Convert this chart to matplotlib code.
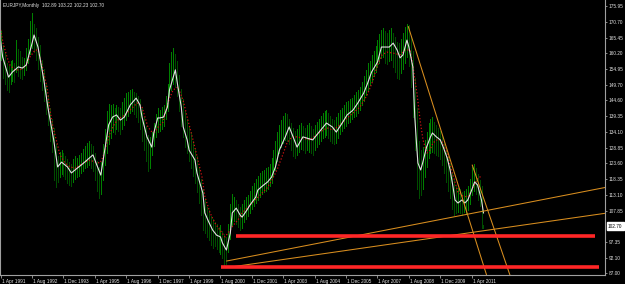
import numpy as np
import matplotlib.pyplot as plt
from matplotlib.transforms import blended_transform_factory, ScaledTranslation

plt.rcParams['font.family'] = ['Liberation Sans', 'DejaVu Sans']

# months counted from 1 Apr 1991, one bar per month
highs = [167.5, 163.0, 160.5, 157.0, 156.0, 157.5, 158.0, 157.0, 164.5, 161.5, 161.0, 159.0,
         158.5, 162.0, 165.0, 171.0, 173.5, 170.0, 168.5, 165.5, 163.0, 158.0, 155.0, 150.0,
         146.5, 142.0, 138.5, 135.5, 130.0, 126.0, 127.5, 128.0, 127.0, 126.0, 125.0, 124.0,
         123.5, 125.0, 126.0, 125.5, 126.5, 127.0, 128.5, 129.5, 130.5, 131.0, 130.0, 129.5,
         127.0, 124.5, 122.5, 124.0, 130.0, 135.0, 141.0, 143.5, 143.0, 143.5, 142.0, 143.0,
         142.5, 142.0, 144.0, 145.5, 147.0, 147.5, 148.0, 148.5, 147.5, 147.0, 146.0, 145.0,
         142.0, 139.0, 136.0, 133.0, 132.5, 134.0, 137.0, 140.0, 142.0, 141.5, 142.5, 143.0,
         146.0, 150.0, 157.0, 160.5, 162.0, 160.0, 157.5, 153.0, 148.5, 145.0, 141.0, 138.5,
         136.0, 134.0, 131.0, 128.5, 126.0, 122.5, 118.5, 115.0, 112.0, 109.0, 108.0, 106.0,
         105.0, 104.0, 103.5, 102.5, 103.0, 101.0, 100.0, 99.0, 103.5, 110.0, 113.5, 112.5,
         111.5, 110.0, 109.0, 110.0, 111.5, 112.5, 113.0, 114.5, 116.0, 117.0, 118.5, 119.5,
         120.5, 121.0, 121.5, 122.0, 122.5, 123.5, 125.5, 128.0, 131.0, 134.0, 136.5, 138.0,
         139.5, 140.5, 140.0, 138.5, 137.0, 135.5, 134.5, 135.0, 136.5, 137.0, 136.0, 135.5,
         136.5, 137.0, 136.0, 135.0, 136.5, 137.5, 138.5, 139.5, 140.5, 141.0, 141.5, 140.5,
         139.5, 138.5, 138.0, 139.0, 140.5, 141.5, 142.0, 143.0, 144.0, 144.5, 145.0, 145.5,
         146.5, 147.5, 148.0, 149.0, 150.5, 152.5, 154.5, 157.0, 157.5, 159.5, 161.0, 162.5,
         164.5, 166.5, 168.0, 168.5, 167.5, 167.0, 168.0, 168.5, 167.0, 165.5, 164.0, 163.5,
         165.0, 167.0, 169.0, 170.0, 169.5, 166.0, 161.0, 152.0, 142.0, 131.0, 128.0, 129.0,
         131.5, 134.0, 137.0, 138.5, 139.0, 137.5, 136.5, 135.5, 134.5, 133.0, 131.0, 128.5,
         126.0, 123.5, 120.5, 118.0, 116.0, 115.5, 115.0, 114.0, 114.5, 115.0, 116.0, 118.5,
         122.5, 123.5, 122.0, 120.0, 118.0, 116.0, 103.22]
lows = [158.0, 152.0, 150.0, 148.0, 147.5, 150.0, 151.0, 150.5, 154.0, 152.5, 152.0, 151.5,
        153.0, 154.5, 157.0, 160.0, 162.0, 160.5, 158.0, 155.0, 151.0, 148.0, 144.5, 140.0,
        136.5, 131.0, 127.5, 118.0, 115.8, 117.5, 119.0, 120.0, 119.5, 118.5, 117.0, 116.5,
        116.0, 117.5, 118.5, 119.0, 119.5, 120.5, 121.0, 122.0, 122.5, 123.0, 122.0, 121.0,
        118.0, 114.5, 112.0, 113.5, 118.0, 123.0, 127.0, 130.0, 132.0, 134.0, 133.5, 135.0,
        134.5, 133.5, 135.0, 136.5, 138.0, 139.5, 140.5, 141.0, 140.0, 139.0, 137.5, 135.0,
        131.0, 128.0, 124.5, 121.0, 122.0, 126.5, 129.5, 132.5, 134.0, 134.5, 135.0, 136.0,
        138.5, 141.0, 146.0, 148.0, 150.0, 149.0, 146.0, 141.0, 136.0, 132.5, 129.0, 127.0,
        124.5, 122.0, 119.5, 117.0, 114.0, 110.5, 106.5, 101.5, 100.5, 99.0, 98.0, 96.5,
        95.5, 96.0, 95.0, 94.0, 93.5, 92.0, 89.5, 90.0, 94.0, 98.5, 103.0, 104.5,
        103.5, 102.5, 101.5, 102.0, 104.0, 105.0, 106.0, 107.0, 108.5, 109.5, 110.5, 111.5,
        112.5, 113.5, 114.0, 114.5, 115.0, 116.0, 117.0, 119.5, 121.5, 124.5, 127.0, 129.0,
        130.5, 131.5, 131.0, 130.0, 128.0, 126.0, 125.5, 126.5, 127.5, 128.5, 128.0, 127.0,
        128.0, 127.5, 127.0, 126.5, 128.0, 129.0, 130.0, 131.0, 132.0, 132.5, 133.0, 132.0,
        131.0, 130.5, 130.0, 130.5, 132.0, 133.5, 134.5, 135.5, 136.0, 137.0, 137.5, 138.5,
        139.0, 139.5, 140.5, 141.5, 143.0, 144.5, 146.5, 148.0, 149.5, 151.0, 152.5, 154.0,
        155.5, 157.0, 158.5, 159.0, 157.0, 156.5, 157.5, 158.0, 155.5, 154.0, 152.0, 151.5,
        153.5, 155.0, 157.0, 159.0, 156.0, 149.0, 139.0, 128.0, 115.0, 112.0, 113.0, 115.0,
        119.0, 122.5, 125.5, 127.0, 127.5, 127.0, 126.5, 126.0, 125.0, 123.0, 120.5, 117.5,
        114.5, 112.0, 108.5, 106.5, 107.0, 107.5, 107.0, 106.5, 107.5, 107.0, 108.0, 110.0,
        113.0, 114.5, 113.5, 111.5, 109.5, 102.0, 102.23]

# fast smoothed average (white line)
white_m = [0, 1, 4, 6, 9, 11, 13, 16, 17, 19, 22, 24, 27, 29, 31, 34, 36, 39, 41, 44, 47, 49, 51,
           53, 55, 57, 59, 61, 63, 66, 69, 71, 72, 74.5, 77, 78, 80, 81, 83, 85, 86, 89, 90, 92,
           93, 95, 96, 99, 100, 103, 104, 106, 108, 110, 112, 113, 115, 117, 118, 120, 122, 123,
           125.5, 127, 130, 131, 134, 136, 138, 140, 142, 145, 147, 149, 151, 152.5, 154, 156,
           159, 161, 164, 166, 169, 171, 174, 176.5, 179.5, 182, 185, 187, 189, 192, 194, 196,
           198, 200, 202, 203.5, 205, 207, 208, 210, 210.5, 211, 212, 212.6, 214, 215, 217, 219,
           220, 222, 224, 225.5, 227.5, 229, 230.5, 231.5, 233, 235, 236.5, 238, 240, 241.5,
           243, 245, 246]
white_p = [164.0, 159.0, 152.3, 154.0, 155.7, 155.3, 156.3, 163.6, 166.3, 162.3, 151.3, 142.4,
           131.4, 122.4, 124.0, 122.4, 120.4, 122.0, 123.0, 124.7, 126.4, 123.0, 119.7, 128.0,
           136.4, 139.0, 139.7, 138.0, 139.0, 143.0, 145.3, 143.0, 139.0, 132.4, 129.0, 133.7,
           138.7, 138.7, 139.0, 142.4, 148.0, 154.7, 150.3, 142.4, 135.7, 131.4, 128.0, 124.7,
           120.4, 113.7, 107.1, 104.1, 101.4, 99.7, 99.1, 97.1, 94.75, 100.4, 107.1, 108.7,
           106.4, 105.7, 108.1, 109.7, 112.4, 114.7, 116.4, 117.4, 119.0, 122.4, 128.0, 132.4,
           135.7, 132.4, 129.0, 130.7, 132.4, 132.0, 131.4, 133.0, 135.4, 137.0, 135.7, 134.0,
           137.0, 139.7, 141.3, 143.7, 147.0, 150.3, 154.0, 157.3, 162.3, 162.3, 162.3, 163.6,
           161.3, 158.7, 159.7, 164.6, 162.3, 155.7, 147.0, 139.0, 129.0, 123.7, 121.4, 123.7,
           129.0, 132.4, 133.7, 132.4, 131.4, 129.0, 125.4, 121.4, 115.7, 111.4, 110.4, 111.4,
           110.4, 111.4, 114.7, 117.4, 116.4, 111.4, 107.1]

# slow average (red dotted line)
red_m = [0, 1.2, 3.2, 4.7, 7.3, 9.8, 12.4, 14.9, 17.5, 19, 21, 23.6, 25.1, 26.6, 28.7, 30.2, 32.8,
         35.3, 37.9, 40.4, 43, 45.5, 48, 50.6, 52.1, 54.2, 55.7, 58.2, 60.8, 63.3, 65.9, 69.5,
         72, 73.5, 75, 77.1, 78.6, 80.2, 82.7, 85.2, 87.8, 90.3, 92.9, 95.4, 98, 100.5, 102.6,
         104.1, 106.7, 109.2, 111.7, 114.3, 115.8, 117.9, 119.4, 120.9, 123, 125.5, 128.1,
         130.6, 133.2, 135.7, 138.2, 140.8, 143.3, 145.9, 148.4, 151, 154, 157.6, 162.7, 166.3,
         169.3, 172.9, 176.5, 179.5, 183, 186.7, 189.2, 191.7, 194.3, 196.8, 199.9, 203.5, 206,
         208.6, 210.1, 212.1, 213.7, 215.2, 217.2, 218.7, 220.3, 222.3, 223.9, 225.4, 227.4,
         229, 231.5, 233, 235.6, 238.1, 240.7, 243.2, 245.2]
red_p = [168.0, 163.6, 159.0, 156.3, 154.7, 154.7, 155.7, 159.0, 161.3, 161.3, 156.3, 149.0,
         141.3, 135.7, 130.4, 126.4, 123.7, 122.4, 122.0, 123.0, 124.0, 124.7, 124.0, 123.7,
         125.7, 130.4, 133.7, 137.0, 138.7, 139.7, 141.3, 143.7, 142.4, 139.0, 135.7, 134.0,
         134.0, 135.7, 137.3, 143.7, 148.0, 149.0, 144.7, 138.0, 131.4, 124.7, 119.0, 112.4,
         107.1, 103.7, 101.4, 99.1, 100.4, 102.4, 103.7, 104.7, 107.1, 108.7, 110.4, 112.0,
         113.7, 115.4, 118.0, 121.4, 125.7, 130.4, 132.4, 132.4, 132.0, 131.4, 134.0, 135.4,
         134.7, 136.4, 138.7, 140.3, 142.3, 146.3, 150.3, 155.7, 159.7, 160.6, 160.3, 159.7,
         161.3, 161.3, 155.7, 147.0, 138.0, 131.4, 127.0, 128.0, 130.4, 131.4, 131.4, 130.4,
         127.0, 123.0, 117.4, 114.0, 112.7, 112.4, 115.7, 118.7, 119.4]

# drawn trend lines (month, price) anchor pairs
trend_lines = [((207.7, 169.1), (247.6, 86.4)),
               ((240.3, 123.0), (259.5, 86.4)),
               ((115.2, 91.1), (308.3, 115.6)),
               ((119.4, 89.3), (308.3, 107.0))]
# support levels: (price, start month, end month)
support_levels = [(99.4, 119.9, 303.0), (89.1, 112.3, 305.0)]

price_ticks = [175.95, 170.70, 165.45, 160.20, 154.95, 149.70, 144.60, 139.35, 134.10,
               128.85, 123.60, 118.35, 113.10, 107.85, 97.35, 92.10, 87.00]
date_labels = ['1 Apr 1991', '1 Aug 1992', '1 Dec 1993', '1 Apr 1995', '1 Aug 1996',
               '1 Dec 1997', '1 Apr 1999', '1 Aug 2000', '1 Dec 2001', '1 Apr 2003',
               '1 Aug 2004', '1 Dec 2005', '1 Apr 2007', '1 Aug 2008', '1 Dec 2009',
               '1 Apr 2011']
date_ticks = [16 * i for i in range(len(date_labels))]
last_price = 102.70
header = 'EURJPY,Monthly  102.89 103.22 102.23 102.70'

fg = '#e2e2e2'
axis_col = '#a0a0a0'

fig = plt.figure(figsize=(6.25, 2.84), dpi=100, facecolor='black')
ax = fig.add_axes([0, 9 / 284, 605 / 625, 275 / 284], facecolor='black')

months = np.arange(len(highs))
mid = (np.array(highs) + np.array(lows)) / 2
up = np.r_[True, mid[1:] >= mid[:-1]]
bar_colors = ['#008000' if u else '#004d00' for u in up]
ax.vlines(months, lows, highs, colors=bar_colors, linewidth=0.72, antialiased=False)

ax.plot(red_m, red_p, color='#cc1212', linestyle=(0, (1, 1.6)), linewidth=0.9)
ax.plot(white_m, white_p, color='#e0e0e0', linewidth=0.8)

for (m0, p0), (m1, p1) in trend_lines:
    ax.plot([m0, m1], [p0, p1], color='#d98e1f', linewidth=0.75)
for price, m0, m1 in support_levels:
    ax.hlines(price, m0, m1, color='#ff2626', linewidth=2.6)

ax.set_xlim(-0.357, 307.93)
ax.set_ylim(86.44, 177.95)

for side in ['left', 'bottom', 'right']:
    ax.spines[side].set_color(axis_col)
    ax.spines[side].set_linewidth(0.8)
ax.spines['top'].set_visible(False)

ax.yaxis.tick_right()
ax.set_yticks(price_ticks)
ax.set_yticklabels([f'{p:.2f}' for p in price_ticks])
ax.tick_params(axis='y', colors=axis_col, labelcolor=fg, length=1.5, width=0.6,
               pad=1.2, labelsize=3.4)

ax.set_xticks(date_ticks)
ax.set_xticklabels(date_labels)
ax.tick_params(axis='x', colors=axis_col, labelcolor=fg, length=2, width=0.6,
               pad=1.2, labelsize=3.4)
offset = ScaledTranslation(1 / 100, 0, fig.dpi_scale_trans)
for lbl in ax.get_xticklabels():
    lbl.set_ha('left')
    lbl.set_transform(lbl.get_transform() + offset)

trans = blended_transform_factory(ax.transAxes, ax.transData)
ax.text(1.0 + 3 / 605, last_price, f'{last_price:.2f}', transform=trans, fontsize=3.4,
        color='black', va='center', ha='left',
        bbox=dict(boxstyle='square,pad=0.25', fc='white', ec='white'))

fig.text(3 / 625, 1 - 5 / 284, header, fontsize=3.4, color=fg, ha='left', va='center')

fig.savefig('out.png', dpi=100, facecolor='black')
